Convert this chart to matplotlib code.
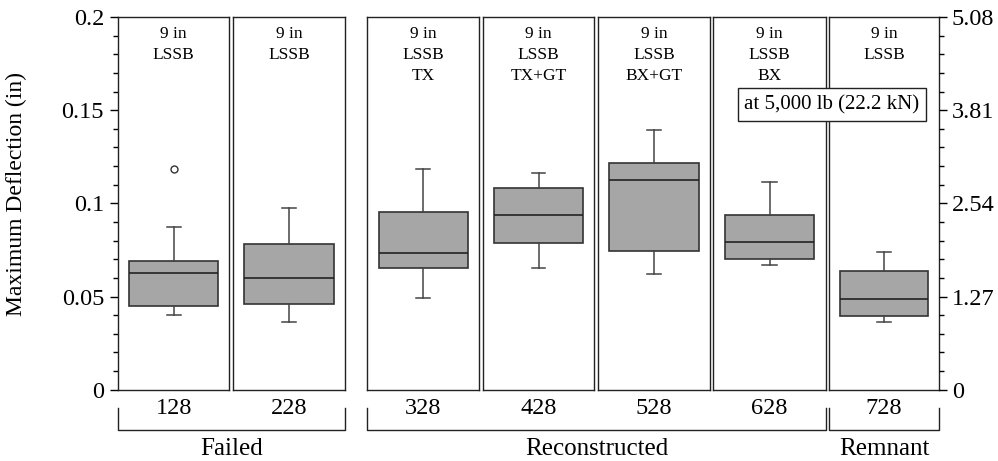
import numpy as np
import matplotlib
matplotlib.use('Agg')
import matplotlib.pyplot as plt
from matplotlib.lines import Line2D
from matplotlib.ticker import MultipleLocator

plt.rcParams['font.family'] = 'Liberation Serif'

# --- Data (deflection in inches) ---
specimens = ['128', '228', '328', '428', '528', '628', '728']
panel_labels = ['9 in\nLSSB', '9 in\nLSSB', '9 in\nLSSB\nTX', '9 in\nLSSB\nTX+GT',
                '9 in\nLSSB\nBX+GT', '9 in\nLSSB\nBX', '9 in\nLSSB']
whisker_low = [0.0399, 0.0361, 0.0493, 0.0651, 0.0622, 0.0670, 0.0361]
q1 = [0.0449, 0.0460, 0.0654, 0.0788, 0.0742, 0.0704, 0.0395]
median = [0.0624, 0.0600, 0.0731, 0.0940, 0.1123, 0.0792, 0.0485]
q3 = [0.0690, 0.0780, 0.0955, 0.1085, 0.1214, 0.0940, 0.0638]
whisker_high = [0.0871, 0.0976, 0.1185, 0.1164, 0.1396, 0.1115, 0.0737]
outliers = [[0.1187], [], [], [], [], [], []]

groups = ['Failed', 'Reconstructed', 'Remnant']
group_members = [[0, 1], [2, 3, 4, 5], [6]]

in_ticks = [0, 0.05, 0.1, 0.15, 0.2]
in_labels = ['0', '0.05', '0.1', '0.15', '0.2']
mm_ticks = [0, 1.27, 2.54, 3.81, 5.08]
mm_labels = ['0', '1.27', '2.54', '3.81', '5.08']

# --- Layout (panel edges in pixels of a 998x461 figure) ---
W, H = 998, 461
panel_x = [(118, 229.5), (233, 345), (367.3, 479.3), (482.7, 594.3),
           (598.3, 710), (713.3, 825.7), (828.7, 939.3)]
top_px, bottom_px = 17, 389.7

fig = plt.figure(figsize=(W / 100, H / 100), dpi=100)

axes = []
for i, (x0, x1) in enumerate(panel_x):
    ax = fig.add_axes([x0 / W, 1 - bottom_px / H, (x1 - x0) / W, (bottom_px - top_px) / H])
    stats = [dict(med=median[i], q1=q1[i], q3=q3[i], whislo=whisker_low[i],
                  whishi=whisker_high[i], fliers=outliers[i])]
    ax.bxp(stats, positions=[0.5], widths=0.8, capwidths=0.125, patch_artist=True,
           boxprops=dict(facecolor='#a6a6a6', edgecolor='#333333', linewidth=1.2),
           medianprops=dict(color='#222222', linewidth=1.2),
           whiskerprops=dict(color='#444444', linewidth=1.1),
           capprops=dict(color='#444444', linewidth=1.1),
           flierprops=dict(marker='o', markerfacecolor='none', markeredgecolor='#333333',
                           markersize=5, markeredgewidth=1))
    ax.set_xlim(0, 1)
    ax.set_ylim(0, 0.2)
    ax.set_xticks([0.5], labels=[specimens[i]])
    ax.tick_params(axis='x', length=0, pad=6, labelsize=17.5)
    for sp in ax.spines.values():
        sp.set_linewidth(1.0)
        sp.set_color('#222222')
    ax.text(0.5, 0.975, panel_labels[i], transform=ax.transAxes, ha='center', va='top',
            fontsize=12.5, linespacing=1.4)
    axes.append(ax)

# right axis (mm) on the last panel
ax_r = axes[-1].twinx()
ax_r.set_ylim(0, 5.08)
ax_r.set_yticks(mm_ticks, labels=mm_labels)
ax_r.yaxis.set_minor_locator(MultipleLocator(0.254))
ax_r.tick_params(axis='y', which='major', length=6, width=1, pad=3, labelsize=17.5)
ax_r.tick_params(axis='y', which='minor', length=3.5, width=1)
for sp in ax_r.spines.values():
    sp.set_visible(False)

# no y ticks on the inner panels
for ax in axes:
    ax.tick_params(axis='y', which='both', left=False, right=False, labelleft=False)

# left axis (inches)
ax_l = axes[0]
ax_l.set_yticks(in_ticks, labels=in_labels)
ax_l.yaxis.set_minor_locator(MultipleLocator(0.01))
ax_l.tick_params(axis='y', which='major', left=True, labelleft=True, length=6, width=1,
                 pad=4, labelsize=17.5)
ax_l.tick_params(axis='y', which='minor', left=True, length=3.5, width=1)
ax_l.set_ylabel('Maximum Deflection (in)', fontsize=17)
ax_l.yaxis.set_label_coords((27 - 118) / 111.5, 0.526)

# group brackets below the panels
y_top = 1 - 408 / H
y_bot = 1 - 430 / H
for name, members in zip(groups, group_members):
    x0 = panel_x[members[0]][0] / W
    x1 = panel_x[members[-1]][1] / W
    fig.add_artist(Line2D([x0, x0, x1, x1], [y_top, y_bot, y_bot, y_top],
                          color='#222222', linewidth=1.0))
    fig.text((x0 + x1) / 2, 1 - 448.5 / H, name, ha='center', va='center', fontsize=18)

# load annotation
fig.text(832 / W, 1 - 105 / H, 'at 5,000 lb (22.2 kN)', ha='center', va='center',
         fontsize=15, zorder=10,
         bbox=dict(boxstyle='square,pad=0.33', facecolor='white', edgecolor='#222222',
                   linewidth=1.0))

fig.savefig('out.png', dpi=100)
